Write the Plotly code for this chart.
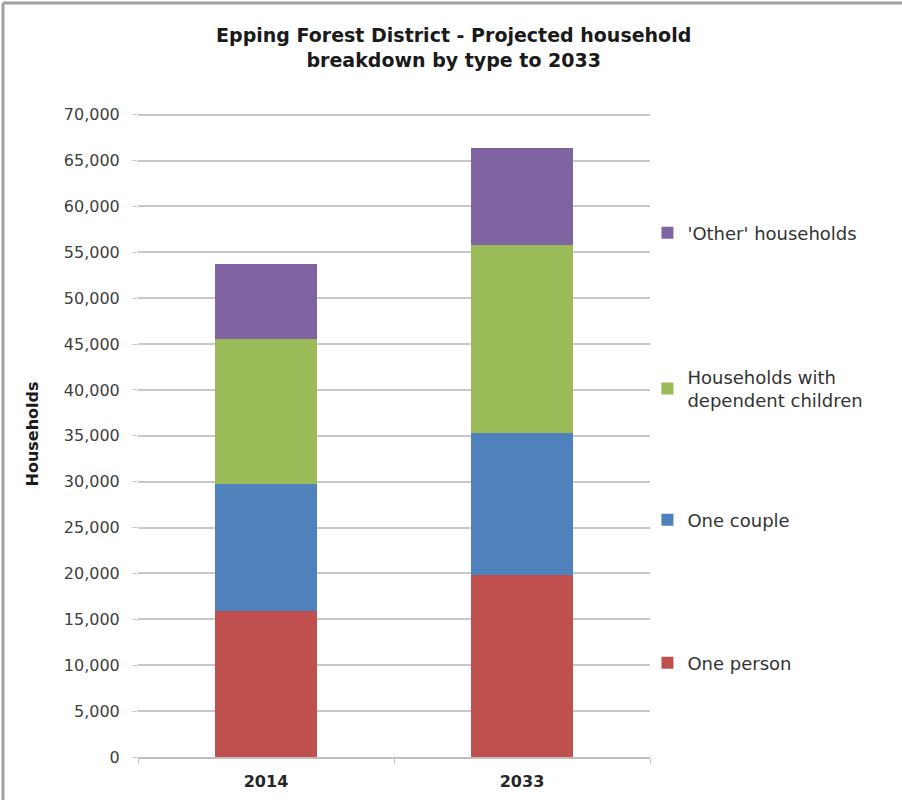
import plotly.graph_objects as go

years = ["2014", "2033"]
one_person = [15900, 19800]
one_couple = [13800, 15550]
dependent_children = [15900, 20450]
other_households = [8100, 10600]
y_ticks = list(range(0, 70001, 5000))

series = [
    ("One person", one_person, "#c0504d", "legend4", 0.1464),
    ("One couple", one_couple, "#4f81bd", "legend3", 0.369),
    ("Households with<br>dependent children", dependent_children, "#9bbb59", "legend2", 0.574),
    ("'Other' households", other_households, "#8064a2", "legend", 0.816),
]

FONT = "DejaVu Sans"
fig = go.Figure()
for name, vals, col, lg, _ in series:
    fig.add_trace(go.Bar(x=years, y=vals, name=name, marker=dict(color=col, line=dict(width=0)),
                         legend=lg))

# plot area spans 111..757 px for 0..70400
legend_common = dict(x=0.995, xanchor="left", yanchor="middle", bgcolor="rgba(0,0,0,0)",
                     font=dict(family=FONT, size=18, color="#333333"), borderwidth=0)
layout_legends = {}
for name, vals, col, lg, ypos in series:
    layout_legends[lg] = dict(legend_common, y=ypos * 642 / 646)

H = 646
fig.update_layout(
    barmode="stack",
    bargap=0.605,
    width=902, height=800,
    margin=dict(l=138, r=252, t=111, b=43),
    paper_bgcolor="white", plot_bgcolor="white",
    title=dict(text="<b>Epping Forest District - Projected household<br>breakdown by type to 2033</b>",
               x=0.503, xref="container", xanchor="center",
               y=1 - 42 / 800, yref="container", yanchor="top",
               font=dict(family=FONT, size=19, color="#1a1a1a")),
    showlegend=True,
    **layout_legends,
    xaxis=dict(showline=True, linecolor="#bfbfbf", linewidth=1.5, ticks="outside", tickson="boundaries",
               ticklen=5, tickcolor="#bfbfbf", tickfont=dict(family=FONT, size=16, color="#262626"),
               ticklabelstandoff=9, showgrid=False, tickprefix="<b>", ticksuffix="</b>",
               automargin=False),
    yaxis=dict(range=[0, 70400], tickvals=y_ticks, tickformat=",d",
               showgrid=True, gridcolor="#c8c8c8",
               gridwidth=1.5, zeroline=False, showline=False, ticks="outside", ticklen=5,
               tickcolor="#c8c8c8", tickfont=dict(family=FONT, size=16, color="#404040"),
               ticklabelstandoff=9, automargin=False,
               title=dict(text="<b>Households</b>", font=dict(family=FONT, size=16, color="#1a1a1a"),
                          standoff=21)),
    shapes=[
        dict(type="line", xref="paper", yref="paper", x0=(3 - 138) / 512, x1=(902 - 138) / 512,
             y0=(757 - 3) / H, y1=(757 - 3) / H, line=dict(color="#a0a0a0", width=3)),
        dict(type="line", xref="paper", yref="paper", x0=(3 - 138) / 512, x1=(3 - 138) / 512,
             y0=(757 - 3) / H, y1=(757 - 800) / H, line=dict(color="#a0a0a0", width=3)),
    ],
)

fig.write_html("out.html")
